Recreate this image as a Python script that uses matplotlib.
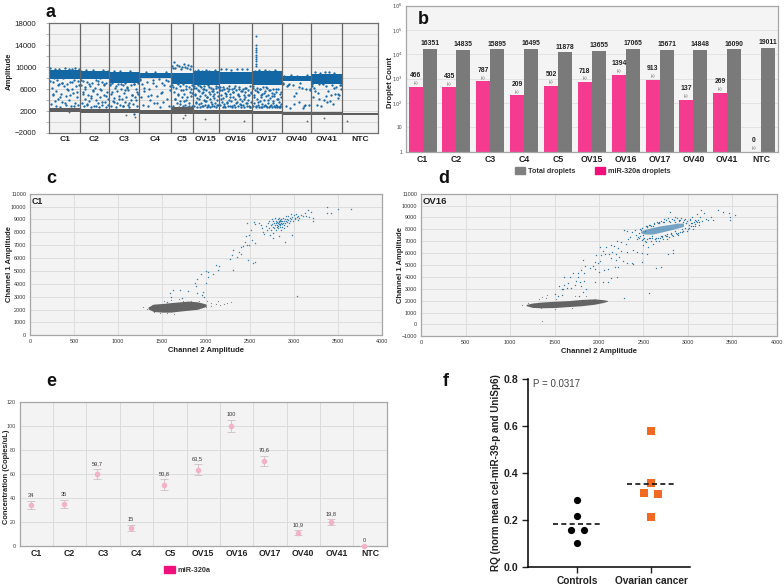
import numpy as np
import matplotlib
matplotlib.use("Agg")
import matplotlib.pyplot as plt
from matplotlib.patches import Patch
from matplotlib.ticker import NullFormatter, FixedLocator

plt.rcParams['font.family'] = ['Liberation Sans', 'DejaVu Sans']

W, H = 784, 586
wells = ['C1', 'C2', 'C3', 'C4', 'C5', 'OV15', 'OV16', 'OV17', 'OV40', 'OV41', 'NTC']

# ---------- panel a: amplitude by well ----------
well_edges = [0, 30.5, 59.5, 89.5, 121.5, 143.5, 169.5, 202.5, 232.5, 261.5, 292.5, 328.5]
band_lo = [7800, 7800, 7200, 8050, 7000, 6800, 6900, 6800, 7450, 6900, None]
band_hi = [9550, 9300, 9150, 8950, 9050, 9250, 9200, 9250, 8400, 8800, None]
neg_mid = [2200, 2050, 2000, 1900, 2100, 1850, 1800, 1750, 1550, 1600, 1500]
neg_half = [400, 340, 340, 340, 560, 340, 320, 320, 260, 260, 240]
a_amps = [
    [9900, 3300, 6200, 7300, 4900, 8000, 9700, 3000, 5600, 7600, 4300, 6900, 9600, 2800, 5100, 7200, 3700, 8100, 6500, 9800, 4700,
     3200, 7000, 5800, 9650, 4100, 7400, 2900, 6000, 9700, 5300, 7700, 3500, 9900, 6600, 4500, 7500, 3100, 9600],
    [9400, 6800, 3400, 5400, 7500, 2900, 4300, 6100, 9450, 3200, 7300, 5000, 8200, 3900, 6500, 2800, 4700, 7100, 5700, 9500, 3000,
     6300, 4100, 7600, 5200, 3500, 6900, 2700, 8000, 4500, 5900, 7400, 3100, 9450, 4900, 6700, 3700, 2800, 7200, 5500, 4200, 9400],
    [6900, 3000, 5100, 7200, 3900, 9300, 4400, 6300, 2800, 5600, 3400, 7000, 4800, 9350, 3100, 6000, 4200, 6700, 2900, 5300, 3600,
     7100, 4600, 6400, 3200, 5800, 2800, 9300, 4000, 6800, 5000, 3300, 7000, 1500, 4500, 6100, 3000, 5500, 7100],
    [7900, 4500, 6900, 3200, 5600, 9100, 7400, 2900, 6100, 4000, 5000, 7700, 3400, 9200, 6500, 4700, 7800, 2800, 5300, 7200, 3700, 6800, 9100, 4300, 7500, 3000, 5900],
    [10200, 6800, 3000, 9800, 5500, 11000, 4200, 9900, 6200, 3400, 10400, 7000, 5000, 2800, 10300, 6500, 3800, 9700, 5800, 10100, 4500,
     2900, 6900, 10600, 5200, 3200, 10000, 6000, 4000, 9800, 2800, 10500, 6400, 3500, 9700, 5400, 4700, 10300, 6700, 3000],
    [6500, 3000, 9400, 5100, 3700, 6200, 2800, 4400, 6700, 9500, 3300, 5600, 2700, 4800, 6400, 3500, 9350, 5300, 2900, 6000, 4100,
     6600, 3100, 5000, 9450, 3800, 5800, 2800, 4500, 6800, 3200, 5400, 9400, 2700, 4200, 6300, 3600, 5700, 2900, 4700, 6100, 3000,
     5200, 9500, 3400, 6500, 2800, 4000, 5500, 3100, 6400],
    [6400, 3100, 5000, 9600, 3700, 5800, 2800, 4400, 6100, 3300, 5300, 2700, 4700, 9700, 6300, 3500, 5600, 2900, 4100, 6500, 3000,
     5100, 3800, 9550, 6000, 2800, 4600, 5500, 3200, 6200, 4200, 2700, 5900, 9700, 3600, 5200, 2900, 4800, 6400, 3300, 4300, 5700,
     2800, 9600, 3900, 6100, 3100, 5000, 2700, 4500, 5400, 6300, 3400, 2900, 9650, 4000, 5800, 3000, 4900, 6500, 2800, 3600, 5300],
    [6500, 2900, 4900, 3400, 9400, 5800, 2700, 4300, 6200, 3100, 5400, 2800, 9500, 3800, 6000, 4600, 2700, 5200, 3300, 6400, 2900,
     4100, 9450, 5600, 3000, 4800, 2700, 6300, 3500, 5000, 2800, 9400, 4400, 5900, 3200, 2700, 5300, 3900, 6100, 2900, 4700, 2800,
     9500, 5500, 3100, 4200, 2700, 6000, 3600, 2800, 5100, 2900, 4500, 3300],
    [6900, 8500, 3000, 6500, 7000, 2600, 8600, 6700, 3300, 5300, 8500, 3700, 7200, 6200, 2500, 2900, 6100, 8550, 3100, 5900],
    [7000, 4600, 6200, 9200, 3100, 5300, 6900, 9000, 2900, 7200, 4100, 9100, 6500, 3600, 5700, 9150, 4900, 6700, 3300, 9000, 5200, 6400, 4400, 5000, 6800, 6000],
    [],
]
a_amps_extra = [
    [7500, 5200, 3900, 6800, 4600, 7100, 3400, 6100, 5000, 7400, 3000, 5500, 6700],
    [7600, 5100, 6400, 3300, 7000, 4400, 5800, 3000, 7500, 6100, 3700, 6900, 4800, 3200],
    [6800, 5400, 3700, 6500, 4300, 7000, 3000, 5900, 6300, 3500, 4900, 6900, 4100, 5200],
    [7700, 6300, 4800, 7200, 3500, 5500, 7600, 6600],
    [8800, 6400, 4300, 7200, 5100, 3300, 8600, 5900, 3800, 6600, 4600, 3000, 6100, 5300],
    [6300, 4900, 3500, 5900, 4200, 6600, 3000, 5400, 6100, 3800, 4600, 2900, 6400, 5100, 3300, 5700, 4400, 6200, 3100, 4800],
    [5900, 4200, 6400, 3000, 5200, 3700, 6100, 4600, 2900, 5500, 6500, 3400, 4900, 6000, 3100, 5700, 4300, 6300, 3500, 5000, 2800, 5400],
    [6200, 4500, 3000, 5600, 3600, 6000, 4900, 2800, 5300, 3200, 6400, 4100, 5800, 2900, 4700, 3500, 5100, 6100, 3000, 4300, 2800, 5500],
    [7100, 6800, 4700, 6400, 3200, 6000],
    [6600, 5600, 4200, 6900, 4800, 3900, 6300, 5100, 6700],
    [],
]
spike_amp = [15700, 14000, 13600, 13200, 12800, 12300, 11900, 11500, 11100, 10600, 10200]
low_x = [19.8, 77, 85.5, 133.8, 136, 155.8, 194.8, 257.8, 274.5, 297.8]
low_amp = [1760, 1330, 910, 730, 1210, 610, 240, 120, 670, 120]

# ---------- panel b: droplet counts ----------
total_droplets = [16351, 14835, 15895, 16495, 11878, 13655, 17065, 15671, 14848, 16090, 19011]
mir_droplets = [466, 435, 787, 209, 502, 718, 1394, 913, 137, 269, 0]

# ---------- panel c: C1 2-D droplets ----------
c_pos_x = [2600,2620,2640,2650,2660,2680,2690,2700,2710,2720,2730,2735,2740,2745,2750,2755,2760,2765,2770,2775,2780,2785,2790,2795,
           2800,2802,2805,2810,2812,2815,2820,2822,2825,2828,2830,2832,2835,2838,2840,2842,2845,2848,2850,2852,2855,2858,2860,2865,
           2870,2875,2880,2885,2890,2895,2900,2905,2910,2915,2920,2925,2930,2935,2940,2950,2955,2960,2970,2980,2990,3000,3005,3015,
           3020,3030,3040,3050,3060,3080,3100,3120,3140,3160,3170,3190,3210,3215,2900,2980,2760,2830,
           2470,2540,2550,2510,2490,2450,2440,2460,2490,2520,2550,2400,2420,2370,2310,2290,2350,2400,2270,2480,2530,2560,2310,2150,
           2110,2140,2000,2020,1940,2080,2020,1900,2000,1870,1880,1790,1700,1620,1590,1600,1720,1900,1960,1950,1560,1980,
           3370,3380,3420,3500,3650,3030]
c_pos_y = [8750,8600,8300,8050,7900,8500,8150,8700,8350,8900,7800,8550,8200,9050,8650,8450,8850,7950,8350,8750,8550,9100,8150,8700,
           8900,8450,8600,8800,8300,9000,8700,8500,8900,8620,8780,9150,8400,8850,8680,8950,8560,8760,8200,9000,8850,8650,8450,8900,
           8750,9100,8600,8850,8300,9000,8700,8900,9250,8800,8500,9050,8950,9300,8750,9100,8900,9400,9000,9200,8850,9350,9100,9000,
           9450,9200,9300,8950,9150,9350,9250,9500,9300,9700,9200,9550,9100,8900,7250,7800,7550,7700,
           8700,8800,8650,8200,7800,7700,7250,7000,7050,7400,7200,6850,6950,6500,6600,6250,6050,6300,5950,5850,5650,5700,5100,5350,
           5450,5050,5000,4950,4800,4750,4550,4400,4100,4050,3800,3450,3500,3550,3250,3000,2900,3300,3350,3100,2600,3000,
           9950,9500,9500,9850,9850,3050]
c_neg_edge_x = [1340, 1400, 1500, 1600, 1700, 1800, 1900, 1950, 2000]
c_neg_edge_lo = [2050, 1850, 1800, 1800, 1880, 1950, 2020, 2130, 2250]
c_neg_edge_hi = [2200, 2420, 2470, 2540, 2600, 2660, 2600, 2520, 2420]
c_out_x = [1280,1330,1520,1600,1690,1740,1830,1920,2010,2050,2110,2130,2160,2200,2240,2280,2000,2060,1410,1470,1560,1640,1380]
c_out_y = [2200,2050,2700,2750,2800,2650,2650,2700,2700,2500,2450,2650,2350,2450,2500,2600,2200,2300,1800,1750,1700,1650,2350]

# ---------- panel d: OV16 2-D droplets ----------
d_pos_x = [2370,2400,2420,2430,2450,2460,2470,2480,2490,2500,2510,2520,2530,2540,2550,2560,2570,2580,2590,2600,2610,2620,2630,2640,
           2650,2660,2670,2680,2690,2700,2710,2720,2730,2740,2750,2760,2770,2780,2790,2800,2810,2820,2830,2840,2850,2860,2870,2880,
           2890,2900,2910,2920,2930,2940,2950,2960,2970,2980,2990,3000,3010,3020,3030,3040,3050,3060,3070,3080,3090,3100,3110,3120,
           3130,3140,3150,3160,3180,3200,3230,3260,3280,3340,3390,3460,3470,3480,3530,
           2280,2310,2350,2330,2300,2250,2200,2170,2130,2080,2040,2010,2210,2250,2310,2380,2430,2480,2540,2150,2190,2230,2110,2070,
           2130,2190,2270,2370,2480,2320,1820,1840,1950,1990,2010,2020,1970,1930,1900,1960,2000,2060,2100,2210,2180,2380,1800,1830,
           1760,1710,1670,1610,1760,1830,1790,1740,1950,2050,2100,2140,2200,1650,1610,1590,1580,1550,1640,1690,1730,1800,1850,1500,
           1580,1540,1780,1820,2640,2700,2560,2780,2830,2830,2280,
           2440,2465,2495,2525,2545,2565,2595,2615,2645,2665,2695,2725,2755,2785,2815,2845,2875,2905,2935,2965,2995,3025,3055,3085,
           2455,2485,2515,2535,2575,2605,2635,2675,2705,2735,2765,2795,2825,2855,2885,2915,2945,2975,3015,3045,3075,3105]
d_pos_y = [7800,7950,7550,7150,7700,7400,7950,7100,6700,7500,7250,7850,6900,8300,6500,7250,8400,7000,8300,7450,6800,8500,7200,7050,
           8600,7300,7000,8650,7250,8700,7450,7150,8850,7500,8800,7200,7600,8950,7350,9500,7700,8900,7450,8800,7900,9000,7700,8950,
           7550,8700,7800,8950,8000,8600,7900,8800,8100,8500,8700,8000,8400,8800,8250,8550,9000,8300,8600,8450,8700,9250,8800,8350,
           8650,9000,9600,8700,9400,8900,8800,9000,8750,9650,9500,9400,9000,8800,9200,
           7950,7900,7350,7200,6800,6950,7000,6600,6650,6500,6200,6500,6400,6200,6100,6300,6100,6000,5950,6100,5900,5650,5950,5900,
           5550,5450,5350,5150,5250,5200,5450,4900,5250,5200,5300,5800,5850,4900,4750,4700,4450,4600,4650,4800,4800,5100,4600,4350,
           4300,4350,3950,4000,3950,3650,3600,3650,3600,3600,3550,3900,4000,3500,3350,3000,2950,3200,3050,3100,3300,3250,3000,2600,
           2450,2350,2400,2700,4750,4800,2650,5900,6050,6250,2200,
           7350,8050,7200,8250,7150,8350,7250,8450,7300,8500,7400,8600,7450,8700,7600,8750,7650,8800,7750,8850,7900,8900,8050,8750,
           7300,8150,7050,8200,7250,8300,7150,8550,7350,8650,7400,8600,7550,8650,7700,8800,7850,8550,8150,8500,8250,8600]
d_core_x = [2470, 2520, 2600, 2690, 2800, 2880, 2950]
d_core_lo = [7700, 7600, 7600, 7750, 7950, 8100, 8250]
d_core_hi = [7850, 8000, 8150, 8300, 8420, 8520, 8520]
d_neg_edge_x = [1180, 1250, 1350, 1500, 1650, 1800, 1950, 2050, 2090]
d_neg_edge_lo = [1580, 1430, 1400, 1420, 1500, 1570, 1700, 1850, 1950]
d_neg_edge_hi = [1680, 1800, 1880, 1950, 2000, 2100, 2150, 2080, 2020]
d_out_x = [1130,1200,1360,1400,1320,1420,1520,1730,1850,1950,2050,2090,1350,1500,1700,1360]
d_out_y = [1600,1800,2300,2200,2150,2500,2150,2350,2350,2100,1950,2000,1350,1300,1400,250]

# ---------- panel e: concentration ----------
conc = [34, 35, 59.7, 15, 50.8, 63.5, 100, 70.6, 10.9, 19.8, 0]
conc_err = [3, 3.2, 4, 2.5, 4.5, 4.5, 5, 4.5, 2, 2.2, 0]
conc_labels = ['34', '35', '59,7', '15', '50,8', '63,5', '100', '70,6', '10,9', '19,8', '0']

# ---------- panel f: RQ ----------
group_names = ['Controls', 'Ovarian cancer']
controls_rq = [0.285, 0.215, 0.155, 0.155, 0.10]
controls_slot = [0, 0, -1, 1, 0]
ovarian_rq = [0.58, 0.355, 0.315, 0.31, 0.21]
ovarian_slot = [0, 0, -1, 1, 0]
group_means = [0.182, 0.354]
p_text = 'P = 0.0317'

# ---------- layout helpers ----------
fig = plt.figure(figsize=(W / 100, H / 100), dpi=100, facecolor='white')


def axes_px(l, t, r, b):
    return fig.add_axes([l / W, 1 - b / H, (r - l) / W, (b - t) / H])


def ylabel_at(ax, text, px, size, frac=0.5):
    ax.set_ylabel(text, fontsize=size, fontweight='bold', color='#222222')
    box = ax.get_position()
    ax.yaxis.set_label_coords((px / W - box.x0) / box.width, frac)


def letter(s, x, y):
    fig.text(x / W, 1 - y / H, s, fontsize=13, fontweight='bold', color='#111111', va='baseline', ha='left')


def scatter_panel(ax, ymin, ticks, label_px):
    ax.set_facecolor('#f3f3f3')
    ax.set_xlim(0, 4000)
    ax.set_ylim(ymin, 11000)
    ax.set_xticks(np.arange(0, 4001, 500))
    ax.set_yticks(ticks)
    ax.grid(True, color='#dddddd', lw=0.7)
    ax.set_axisbelow(True)
    ax.tick_params(length=0, labelsize=3.9, pad=3, labelcolor='#333333')
    for s in ax.spines.values():
        s.set_color('#a6a6a6')
        s.set_linewidth(0.9)
    ax.set_xlabel('Channel 2 Amplitude', fontsize=5.5, fontweight='bold', color='#222222', labelpad=1.5)
    ylabel_at(ax, 'Channel 1 Amplitude', label_px, 5.5)


# ---------- a ----------
ax = axes_px(49.5, 23.5, 378, 133)
ax.set_facecolor('#f3f3f3')
ax.set_xlim(0, 328.5)
ax.set_ylim(-2000, 18000)
ax.set_yticks(np.arange(-2000, 18001, 4000))
ax.yaxis.set_minor_locator(FixedLocator(np.arange(0, 18000, 4000)))
ax.yaxis.set_minor_formatter(NullFormatter())
ax.grid(True, axis='y', which='both', color='#d8d8d8', lw=0.7)
ax.set_axisbelow(True)
centers = [(well_edges[i] + well_edges[i + 1]) / 2 for i in range(11)]
ax.set_xticks(centers)
ax.set_xticklabels(wells, fontsize=6.1, fontweight='bold', color='#222222')
ax.tick_params(axis='x', length=0, pad=2.5)
ax.tick_params(axis='y', which='both', length=2, width=0.5, color='#999999', labelsize=5.7, pad=7.5, labelcolor='#222222')
for i in range(11):
    x0, x1 = well_edges[i], well_edges[i + 1]
    if band_lo[i] is not None:
        ax.fill_between([x0, x1], band_lo[i], band_hi[i], color='#1467a5', lw=0, zorder=2)
        for amps in (a_amps[i], a_amps_extra[i]):
            xs = np.linspace(x0 + 0.8, x1 - 0.8, len(amps))
            ax.scatter(xs, amps, s=2.8, color='#1a6aa8', lw=0, zorder=2)
    ax.fill_between([x0, x1], neg_mid[i] - neg_half[i], neg_mid[i] + neg_half[i], color='#5f5f5f', lw=0, zorder=3)
ax.scatter([206.2] * len(spike_amp), spike_amp, s=2.2, color='#1a6aa8', lw=0, zorder=2)
ax.scatter(low_x, low_amp, s=1.8, color='#666666', lw=0, zorder=2)
for e in well_edges[1:-1]:
    ax.axvline(e, color='#666666', lw=0.9, zorder=4)
for s in ax.spines.values():
    s.set_color('#707070')
    s.set_linewidth(0.9)
ylabel_at(ax, 'Amplitude', 13, 5.5, 0.56)

# ---------- b ----------
ax = axes_px(405.7, 5.6, 778, 151.7)
ax.set_facecolor('#f4f4f4')
ax.set_yscale('log')
ax.set_ylim(1, 1e6)
ax.set_xlim(-0.5, 10.5)
pos = np.arange(11)
bw = 0.414
mir_plot = [v if v > 0 else np.nan for v in mir_droplets]
ax.bar(pos - bw / 2, mir_plot, bw, color='#f43b8f', zorder=2)
ax.bar(pos + bw / 2, total_droplets, bw, color='#7a7a7a', zorder=2)
ax.set_yticks([1, 10, 100, 1000, 1e4, 1e5, 1e6])
ax.set_yticklabels(['1', '10', '$10^2$', '$10^3$', '$10^4$', '$10^5$', '$10^6$'], fontsize=3.6, color='#444444')
ax.yaxis.set_minor_formatter(NullFormatter())
ax.tick_params(axis='y', which='both', length=0, pad=2.5)
ax.minorticks_off()
ax.grid(True, axis='y', color='#e2e2e2', lw=0.7)
ax.set_axisbelow(True)
ax.set_xticks(pos)
ax.set_xticklabels(wells, fontsize=6.3, fontweight='bold', color='#222222')
ax.tick_params(axis='x', length=0, pad=2.5)
for s in ax.spines.values():
    s.set_color('#a6a6a6')
    s.set_linewidth(0.9)
ylabel_at(ax, 'Droplet Count', 393.5, 5.5, 0.477)
for i in range(11):
    ax.annotate(str(total_droplets[i]), (pos[i] + bw / 2, total_droplets[i]), xytext=(0, 1.2), textcoords='offset points',
                ha='center', va='bottom', fontsize=4.9, fontweight='bold', color='#222222')
    base = max(mir_droplets[i], 1)
    ax.annotate('(+)', (pos[i] - bw / 2, base), xytext=(0, 1.2), textcoords='offset points',
                ha='center', va='bottom', fontsize=2.6, color='#444444')
    ax.annotate(str(mir_droplets[i]), (pos[i] - bw / 2, base), xytext=(0, 5.5), textcoords='offset points',
                ha='center', va='bottom', fontsize=4.9, fontweight='bold', color='#222222')
fig.legend(handles=[Patch(color='#808080', label='Total droplets'), Patch(color='#f0107c', label='miR-320a droplets')],
           loc='center left', bbox_to_anchor=(515 / W, 1 - 171 / H), ncol=2, frameon=False,
           prop={'weight': 'bold', 'size': 5.2}, handlelength=1.4, handleheight=1.0, handletextpad=0.4, columnspacing=2.7,
           borderpad=0, borderaxespad=0, labelcolor='#333333')

# ---------- c ----------
ax = axes_px(30.3, 193.7, 382, 335.3)
scatter_panel(ax, 0, np.arange(0, 11001, 1000), 13.5)
ax.fill_between(c_neg_edge_x, c_neg_edge_lo, c_neg_edge_hi, color='#646464', lw=0, zorder=2)
ax.scatter(c_out_x, c_out_y, s=0.7, color='#808080', lw=0, zorder=2)
ax.scatter(c_pos_x, c_pos_y, s=1.1, color='#3a80ad', lw=0, zorder=3)
ax.text(0.005, 0.975, 'C1', transform=ax.transAxes, fontsize=6.4, fontweight='bold', color='#222222', va='top')

# ---------- d ----------
ax = axes_px(421.3, 193.7, 776.7, 336.3)
scatter_panel(ax, -1000, np.arange(-1000, 11001, 1000), 404)
ax.fill_between(d_neg_edge_x, d_neg_edge_lo, d_neg_edge_hi, color='#646464', lw=0, zorder=2)
ax.scatter(d_out_x, d_out_y, s=0.7, color='#808080', lw=0, zorder=2)
ax.fill_between(d_core_x, d_core_lo, d_core_hi, color='#1f6ea6', alpha=0.6, lw=0, zorder=3)
ax.scatter(d_pos_x, d_pos_y, s=1.0, color='#2c78a8', lw=0, zorder=3)
ax.text(0.005, 0.975, 'OV16', transform=ax.transAxes, fontsize=6.8, fontweight='bold', color='#222222', va='top')

# ---------- e ----------
ax = axes_px(19.7, 401.7, 386.7, 545.7)
ax.set_facecolor('#f3f3f3')
ax.set_xlim(0, 11)
ax.set_ylim(0, 120)
ax.set_yticks(np.arange(0, 121, 20))
ax.set_xticks(np.arange(0, 12))
ax.set_xticklabels([])
ax.grid(True, color='#dcdcdc', lw=0.7)
ax.set_axisbelow(True)
ax.tick_params(length=0, labelsize=3.9, pad=3, labelcolor='#444444')
xs = np.arange(11) + 0.33
ax.errorbar(xs, conc, yerr=conc_err, fmt='o', ms=3.0, color='#f0b3c8', ecolor='#cdbfc3', elinewidth=0.6, capsize=3.2, capthick=0.6, zorder=3, clip_on=False)
for i in range(11):
    ax.annotate(conc_labels[i], (xs[i], conc[i] + conc_err[i]), xytext=(0, 2.2), textcoords='offset points',
                ha='center', va='bottom', fontsize=4.1, color='#333333')
    ax.text(i + 0.5, -2.5, wells[i], ha='center', va='top', fontsize=6.3, fontweight='bold', color='#222222')
for s in ax.spines.values():
    s.set_color('#a6a6a6')
    s.set_linewidth(0.9)
ylabel_at(ax, 'Concentration (Copies/uL)', 10.5, 5.4, 0.477)
fig.legend(handles=[Patch(color='#f0107c', label='miR-320a')], loc='center left', bbox_to_anchor=(164.3 / W, 1 - 570 / H),
           frameon=False, prop={'weight': 'bold', 'size': 5.3}, handlelength=1.4, handleheight=1.0, handletextpad=0.4,
           borderpad=0, borderaxespad=0, labelcolor='#333333')

# ---------- f ----------
ax = axes_px(527.7, 379, 690, 566.7)
ax.set_xlim(0.327, 2.529)
ax.set_ylim(0, 0.8)
ax.set_yticks([0, 0.2, 0.4, 0.6, 0.8])
ax.set_yticklabels(['0.0', '0.2', '0.4', '0.6', '0.8'], fontsize=7.6, fontweight='bold', color='#222222')
ax.set_xticks([1, 2])
ax.set_xticklabels(group_names, fontsize=7.3, fontweight='bold', color='#222222')
ax.tick_params(length=4.3, width=1.0, color='#222222', pad=2.5)
ax.spines['top'].set_visible(False)
ax.spines['right'].set_visible(False)
ax.spines['left'].set_linewidth(1.1)
ax.spines['bottom'].set_linewidth(1.1)
ax.patch.set_alpha(0)
ax.scatter(1 + 0.09 * np.array(controls_slot), controls_rq, s=27, marker='o', color='black', lw=0, zorder=3)
ax.scatter(2 + 0.09 * np.array(ovarian_slot), ovarian_rq, s=27, marker='s', color='#f26a21', lw=0, zorder=3)
ax.hlines(group_means, [0.668, 1.668], [1.332, 2.332], colors='#111111', linestyles=(0, (3, 2)), lw=1.2, zorder=4)
ax.text(0.40, 0.78, p_text, fontsize=7, color='#444444', va='center')
ylabel_at(ax, 'RQ (norm mean cel-miR-39-p and UniSp6)', 501, 7.1)

letter('a', 45.5, 17)
letter('b', 418, 24)
letter('c', 46, 183)
letter('d', 438.5, 183)
letter('e', 46, 386)
letter('f', 443, 386)

fig.savefig('out.png', dpi=100)
